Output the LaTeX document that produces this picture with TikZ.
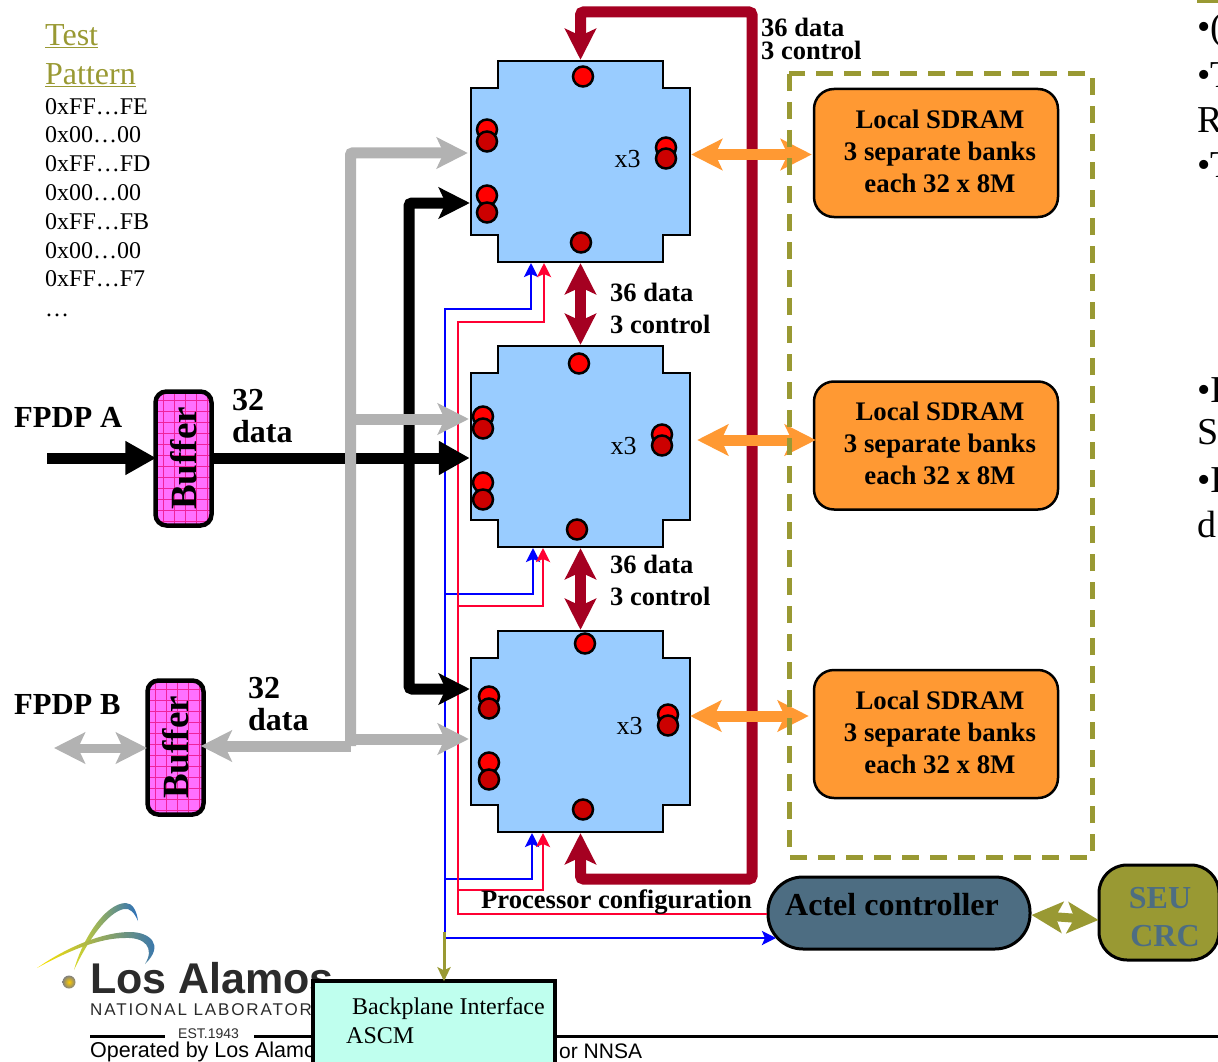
\documentclass[tikz,border=0pt]{standalone}
\usepackage{fontspec}
\setmainfont{Liberation Serif}
\newfontfamily\logofont{Liberation Sans}
\newfontfamily\labfont[LetterSpace=11]{Liberation Sans}
\newfontfamily\opfont{Liberation Sans}
\usetikzlibrary{calc, arrows.meta}

\definecolor{chipblue}{HTML}{99CCFF}
\definecolor{pinred}{HTML}{FF0000}
\definecolor{pindark}{HTML}{CC0000}
\definecolor{maroon}{HTML}{A50021}
\definecolor{sdramorange}{HTML}{FF9933}
\definecolor{olive}{HTML}{999933}
\definecolor{slate}{HTML}{4D6D82}
\definecolor{busgray}{HTML}{B2B2B2}
\definecolor{wirered}{HTML}{FF0033}
\definecolor{bufpink}{HTML}{FF70FF}
\definecolor{bpteal}{HTML}{BFFFEE}
\definecolor{logoink}{HTML}{2B2B2B}
\definecolor{logoblue}{HTML}{2A6EBB}

\tikzset{
    chipbox/.style={minimum width=219pt, minimum height=201pt, inner sep=0pt},
    chipedge/.style={draw=black, fill=chipblue, line width=2.5pt, line join=miter},
    pinA/.style={circle, draw=black, fill=pinred, line width=2.5pt, minimum size=20pt, inner sep=0pt},
    pinB/.style={pinA, fill=pindark},
    chiptext/.style={font=\fontsize{26}{30}\selectfont},
    sdrambox/.style={draw=black, fill=sdramorange, line width=2.5pt, rounded corners=20pt,
        minimum width=244pt, minimum height=128pt, inner sep=0pt},
    sdramtext/.style={align=center, inner sep=0pt, font=\fontsize{26.8}{32}\selectfont\bfseries},
    bufferbox/.style={draw=black, fill=bufpink, line width=4.5pt, rounded corners=11pt, rotate=90,
        minimum width=134pt, minimum height=56pt, inner sep=0pt,
        font=\fontsize{37}{37}\selectfont\bfseries,
        path picture={\draw[magenta!70!bufpink, line width=0.4pt, step=11pt]
            (path picture bounding box.south west) grid (path picture bounding box.north east);}},
    boldlabel/.style={anchor=west, inner sep=0pt, align=left, font=\fontsize{26.5}{32}\selectfont\bfseries},
    fpdplabel/.style={anchor=west, inner sep=0pt, font=\fontsize{30.6}{32}\selectfont\bfseries},
    datalabel/.style={anchor=west, inner sep=0pt, align=left, font=\fontsize{32}{32}\selectfont\bfseries},
    patternlabel/.style={anchor=west, inner sep=0pt, font=\fontsize{24}{28}\selectfont},
    sidetext/.style={anchor=west, inner sep=0pt, font=\fontsize{38}{40}\selectfont},
    graybus/.style={draw=busgray, line width=11pt, rounded corners=2pt},
    blackbus/.style={draw=black, line width=11pt, rounded corners=3pt},
    maroonbus/.style={draw=maroon, line width=11pt, rounded corners=3pt},
    orangebus/.style={draw=sdramorange, line width=11pt},
    olivebus/.style={draw=olive, line width=9pt},
    bluewire/.style={draw=blue, line width=2.6pt},
    redwire/.style={draw=wirered, line width=2.6pt},
    flathead/.tip={Triangle[length=31pt, width=32pt]},
    smallhead/.tip={Stealth[length=14pt, width=14pt, inset=3pt]}
}

\begin{document}
\begin{tikzpicture}[x=1pt, y=-1pt, >={Stealth[length=31pt, width=31pt, inset=7pt]}]

    \useasboundingbox (0, 0) rectangle (1218, 1062);

    % ==========================================
    % 1. LOGO & FOOTER
    % ==========================================
    \shade[left color=yellow!70!gray, middle color=gray, right color=logoblue]
        (74, 970) .. controls (82, 940) and (105, 903) .. (126, 903)
        .. controls (133, 903) and (137, 912) .. (138, 921)
        .. controls (134, 912) and (130, 908) .. (124, 909)
        .. controls (108, 912) and (88, 940) .. (74, 970);
    \shade[left color=yellow!80!orange, middle color=gray, right color=logoblue]
        (37, 968) .. controls (70, 945) and (105, 932) .. (130, 932)
        .. controls (150, 932) and (165, 945) .. (145, 964)
        .. controls (155, 948) and (145, 937) .. (125, 938)
        .. controls (100, 938) and (70, 950) .. (37, 968);
    \shade[inner color=yellow!60!orange, outer color=gray] (69, 982) circle (6.5pt);

    \node[anchor=west, inner sep=0pt, text=logoink, font=\logofont\bfseries\fontsize{43}{46}\selectfont] (logoName) at (90, 978) {Los Alamos};
    \node[anchor=west, inner sep=0pt, text=logoink, font=\labfont\fontsize{17}{18}\selectfont] (logoLab) at (90, 1010) {NATIONAL LABORATOR};
    \node[anchor=west, inner sep=0pt, text=logoink, font=\opfont\fontsize{14}{14}\selectfont] (logoEst) at (178, 1034) {EST.1943};
    \node[anchor=west, inner sep=0pt, font=\opfont\fontsize{21.5}{24}\selectfont] (opLeft) at (90, 1052) {Operated by Los Alamo};
    \node[anchor=west, inner sep=0pt, font=\opfont\fontsize{21}{24}\selectfont] (opRight) at (559, 1051) {or NNSA};

    \draw[black, line width=3pt] (90, 1036) -- (165, 1036);
    \draw[black, line width=3pt] (254, 1036) -- (320, 1036);
    \draw[black, line width=3pt] (550, 1036) -- (1218, 1036);

    % ==========================================
    % 2. BOXES
    % ==========================================
    \foreach \name/\cy in {chipA/161.5, chipB/446.5, chipC/731.5} {
        \node[chipbox] (\name) at (580.5, \cy) {};
        \draw[chipedge]
            ($(\name.north west)+(27, 0)$) -- ($(\name.north east)+(-27, 0)$)
            -- ($(\name.north east)+(-27, 27)$) -- ($(\name.north east)+(0, 27)$)
            -- ($(\name.south east)+(0, -27)$) -- ($(\name.south east)+(-27, -27)$)
            -- ($(\name.south east)+(-27, 0)$) -- ($(\name.south west)+(27, 0)$)
            -- ($(\name.south west)+(27, -27)$) -- ($(\name.south west)+(0, -27)$)
            -- ($(\name.north west)+(0, 27)$) -- ($(\name.north west)+(27, 27)$)
            -- cycle;
    }

    % Pins and x3 of each processor, moved a little from box to box
    \foreach \name/\dx/\dy in {chipA/0/0, chipB/-4/2, chipC/2/-3} {
        \foreach \pin/\pinx/\piny/\look in {top/2.5/-85/pinA, la/-93.5/-32/pinA, lb/-93.5/-20/pinB,
                lc/-93.5/34/pinA, ld/-93.5/51/pinB, ra/85.5/-14/pinA, rb/85.5/-3/pinB, bot/0.5/81/pinB} {
            \node[\look] (\name\pin) at ($(\name)+(\dx+\pinx, \dy+\piny)$) {};
        }
        \node[chiptext] (\name x3) at ($(\name)+(\dx+47, \dy-2)$) {x3};
    }

    \foreach \name/\cy in {sdramA/153, sdramB/445.5, sdramC/734} {
        \node[sdrambox] (\name) at (936, \cy) {};
        \node[sdramtext] (\name Text) at ($(\name)+(4, -2)$) {Local SDRAM\\3 separate banks\\each 32 x 8M};
    }

    \node[bufferbox] (bufA) at (183.5, 458.5) {Buffer};
    \node[bufferbox] (bufB) at (175.5, 747.5) {Buffer};

    \node[draw=black, fill=slate, line width=3pt, rounded corners=35pt, minimum width=262pt, minimum height=72pt, inner sep=0pt] (actel) at (899, 913) {};
    \node[draw=black, fill=olive, line width=3pt, rounded corners=28pt, minimum width=120pt, minimum height=95pt, inner sep=0pt] (seu) at (1159, 912.5) {};
    \node[draw=black, fill=bpteal, line width=3.5pt, minimum width=242pt, minimum height=120pt, inner sep=0pt] (backplane) at (434, 1041) {};

    % ==========================================
    % 3. CONTROL WIRES
    % ==========================================
    \coordinate (blueTop) at (445, 309);
    \coordinate (blueB) at (445, 594);
    \coordinate (blueC) at (445, 879);
    \coordinate (blueEnd) at (445, 938);
    \coordinate (actelIn) at (776, 938);
    \coordinate (redTop) at (458, 322);
    \coordinate (redB) at (458, 606);
    \coordinate (redC) at (458, 890);
    \coordinate (redEnd) at (458, 914);

    \draw[bluewire, -{smallhead}] (blueEnd) -- (blueTop) -- (531, 309) -- (531, 263);
    \draw[bluewire, -{smallhead}] (blueB) -- (533, 594) -- (533, 548);
    \draw[bluewire, -{smallhead}] (blueC) -- (532, 879) -- (532, 833);
    \draw[bluewire, -{smallhead}] (blueEnd) -- (actelIn);

    \draw[redwire, -{smallhead}] ($(actel.west)+(0, 1)$) -- (redEnd) -- (redTop) -- (544, 322) -- (544, 263);
    \draw[redwire, -{smallhead}] (redB) -- (543, 606) -- (543, 548);
    \draw[redwire, -{smallhead}] (redC) -- (543, 890) -- (543, 833);

    \coordinate (oliveTop) at (444, 932);
    \draw[olive, line width=3pt, -{Stealth[length=14pt, width=13pt, inset=3pt]}] (oliveTop) -- ($(backplane.north)+(10, 2)$);

    % ==========================================
    % 4. BUSES
    % ==========================================
    % Maroon loop around the processors
    \coordinate (loopSW) at (580.5, 879);
    \coordinate (loopSE) at (752, 879);
    \coordinate (loopNE) at (752, 12);
    \coordinate (loopNW) at (580.5, 12);
    \draw[maroonbus, <->] ($(chipC.south)+(0, 1)$) -- (loopSW) -- (loopSE) -- (loopNE) -- (loopNW) -- ($(chipA.north)+(0, -1)$);
    \draw[maroonbus, <->] ($(chipA.south)+(0, 1)$) -- ($(chipB.north)+(0, -1)$);
    \draw[maroonbus, <->] ($(chipB.south)+(0, 1)$) -- ($(chipC.north)+(0, -1)$);

    % Orange links to memory
    \draw[orangebus, <->] ($(chipA.east)+(1, -7)$) -- ($(sdramA.west)+(-1, 1.5)$);
    \draw[orangebus, <->] ($(chipB.east)+(7, -6.5)$) -- ($(sdramB.west)+(3, -5.5)$);
    \draw[orangebus, <->] ($(chipC.east)+(0, -15.5)$) -- ($(sdramC.west)+(-4, -18)$);

    % Black bus
    \coordinate (fpdpA) at (47, 458);
    \coordinate (blackTop) at (409, 203);
    \coordinate (blackBot) at (409, 689);
    \draw[blackbus, -{flathead}] (fpdpA) -- ($(bufA.north |- fpdpA)+(3, 0)$);
    \draw[blackbus, -{flathead}] (bufA.south |- fpdpA) -- ($(chipB.west)+(-1, 11.5)$);
    \draw[blackbus, <->] ($(chipA.west)+(-1, 41.5)$) -- (blackTop) -- (blackBot) -- ($(chipC.west)+(-1, -42.5)$);

    % Gray bus
    \coordinate (grayTop) at (350.5, 153);
    \coordinate (grayB) at (350.5, 419);
    \coordinate (grayC) at (350.5, 739);
    \coordinate (grayBot) at (350.5, 746);
    \draw[graybus, ->] (grayBot) -- (grayTop) -- ($(chipA.west)+(-3, -8.5)$);
    \draw[graybus, ->] (grayB) -- ($(chipB.west)+(-2, -27.5)$);
    \draw[graybus, ->] (grayC) -- ($(chipC.west)+(-2, 7.5)$);
    \draw[graybus, ->] (grayBot) -- ($(bufB.south |- grayBot)+(-5, 0)$);
    \draw[graybus, line width=9pt, <->] (54, 748) -- (147, 748);

    \draw[olivebus, <->] ($(actel.east)+(0, 2)$) -- ($(seu.west)+(1, 7.5)$);

    % ==========================================
    % 5. DASHED FRAME (over the orange links)
    % ==========================================
    \draw[olive, line width=5pt, dash pattern=on 17pt off 11pt] (789, 74) rectangle (1092, 857);

    % ==========================================
    % 6. TEXT
    % ==========================================
    \node[anchor=west, inner sep=0pt, text=olive, font=\fontsize{32}{33}\selectfont] (testA) at (45, 36) {\underline{Test}};
    \node[anchor=west, inner sep=0pt, text=olive, font=\fontsize{32}{33}\selectfont] (testB) at (45, 75) {\underline{Pattern}};
    \foreach \row/\ypos/\code in {a/107/0xFF…FE, b/135/0x00…00, c/164/0xFF…FD, d/193/0x00…00,
            e/222/0xFF…FB, f/251/0x00…00, g/279/0xFF…F7, h/315/…} {
        \node[patternlabel] (code\row) at (45, \ypos) {\code};
    }

    \node[fpdplabel] (fpdpAtext) at (14, 417) {FPDP A};
    \node[fpdplabel] (fpdpBtext) at (14, 705) {FPDP B};
    \node[datalabel] (dataA) at (232, 416) {32\\data};
    \node[datalabel] (dataB) at (248, 704) {32\\data};

    \node[boldlabel, font=\fontsize{26.5}{23}\selectfont\bfseries] (loopText) at (761, 39) {36 data\\3 control};
    \node[boldlabel] (linkAB) at (610, 308) {36 data\\3 control};
    \node[boldlabel] (linkBC) at (610, 580) {36 data\\3 control};
    \node[boldlabel, font=\fontsize{26.6}{30}\selectfont\bfseries] (procText) at (481, 902) {Processor configuration};

    \node[font=\fontsize{32}{35}\selectfont\bfseries] (actelText) at (892, 905) {Actel controller};
    \node[text=slate, font=\fontsize{32}{34}\selectfont\bfseries] (seuText) at (1160, 898) {SEU};
    \node[text=slate, font=\fontsize{32}{34}\selectfont\bfseries] (crcText) at (1165, 936) {CRC};

    \node[anchor=west, inner sep=0pt, font=\fontsize{24}{26}\selectfont] (bpTextA) at (352, 1009) {Backplane Interface};
    \node[anchor=west, inner sep=0pt, font=\fontsize{24}{26}\selectfont] (bpTextB) at (346, 1036) {ASCM};

    % Cut-off text at the right edge
    \draw[olive, line width=3pt] (1197, 2) -- (1218, 2);
    \foreach \row/\ypos/\word in {a/30/•(, b/75/•T, c/120/R, d/165/•T, e/390/•I, f/432/S, g/480/•I, h/524/d} {
        \node[sidetext] (side\row) at (1197, \ypos) {\word};
    }

\end{tikzpicture}
\end{document}
